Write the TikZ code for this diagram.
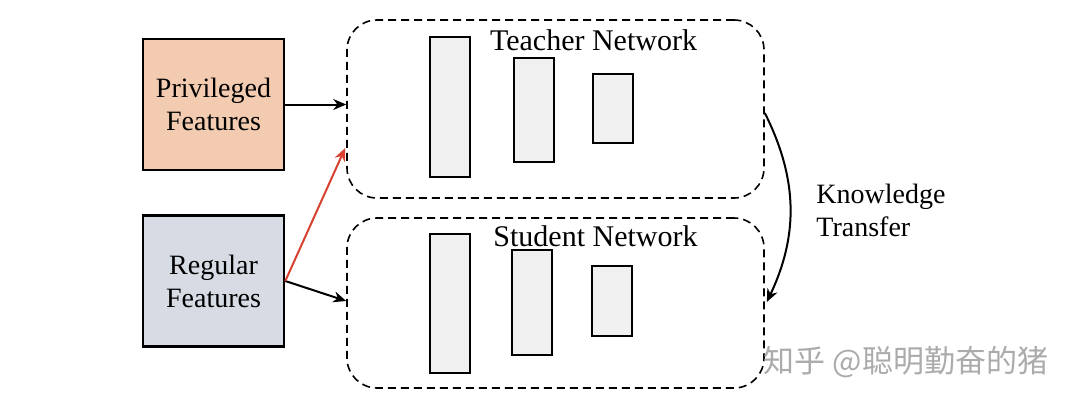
\documentclass[tikz,border=0pt]{standalone}
\usepackage{fontspec}
\setmainfont{Liberation Serif}
\newfontfamily\cjk{Noto Sans CJK SC}
\usetikzlibrary{arrows.meta,calc}
\definecolor{peach}{HTML}{F2CBB0}
\definecolor{bluegray}{HTML}{D6DBE4}
\definecolor{barfill}{HTML}{F0F0F0}
\definecolor{redarrow}{HTML}{D9402F}
\definecolor{wm}{HTML}{ABABAB}
\begin{document}
\begin{tikzpicture}[x=0.5pt,y=-0.5pt,
  feat/.style={draw=black,line width=1.3pt,minimum width=70.5pt,minimum height=65.5pt,inner sep=0pt,align=center,font=\fontsize{14pt}{16.5pt}\selectfont},
  netbox/.style={draw=black,line width=0.8pt,dash pattern=on 4pt off 2.5pt,rounded corners=15pt,minimum width=208.5pt,minimum height=89pt,inner sep=0pt},
  bar/.style={draw=black,line width=1pt,fill=barfill,minimum width=20pt,inner sep=0pt},
  lbl/.style={font=\fontsize{15pt}{16.5pt}\selectfont,inner sep=0pt},
  arr/.style={line width=1pt,-{Stealth[length=6.5pt,width=5.5pt]}}
]
\useasboundingbox (0,0) rectangle (1080,407);
% input boxes
\node[feat,fill=peach] (priv) at (213.5,104.5) {Privileged\\Features};
\node[feat,fill=bluegray] (reg) at (213.5,281) {Regular\\Features};
% network boxes
\node[netbox] (teacher) at (555.5,109) {};
\node[netbox,minimum height=85pt] (student) at (555.5,303) {};
% teacher bars
\node[bar,minimum height=70pt] (t1) at (450,107) {};
\node[bar,minimum height=52pt] (t2) at (534,110) {};
\node[bar,minimum height=34.5pt] (t3) at (613,108.5) {};
% student bars
\node[bar,minimum height=69.5pt] (s1) at (450,303.5) {};
\node[bar,minimum height=52.5pt] (s2) at (531.5,302.5) {};
\node[bar,minimum height=35pt] (s3) at (612,301) {};
% labels
\node[lbl] (tl) at (593.5,40) {Teacher Network};
\node[lbl] (sl) at (595.5,236) {Student Network};
\node[lbl,align=left,anchor=west,font=\fontsize{14pt}{16.5pt}\selectfont] (kt) at (816,210) {Knowledge\\Transfer};
% connectors
\coordinate (tin) at (priv.east -| teacher.west);
\coordinate (tred) at ($(teacher.west)+(-1,39)$);
\coordinate (sin) at ($(student.west)+(0,-2)$);
\draw[arr] (priv.east) -- (tin);
\draw[arr] (reg.east) -- (sin);
\draw[arr,color=redarrow] (reg.east) -- (tred);
\coordinate (kfrom) at ($(teacher.east)+(0,4)$);
\coordinate (kto) at ($(student.east)+(2,-1)$);
\draw[arr] (kfrom) to[bend left=26] (kto);
% watermark
\node[inner sep=0pt,text=wm,font=\cjk\fontsize{15.5pt}{16pt}\selectfont] (wmk) at (906,362) {知乎 @聪明勤奋的猪};
\end{tikzpicture}
\end{document}
